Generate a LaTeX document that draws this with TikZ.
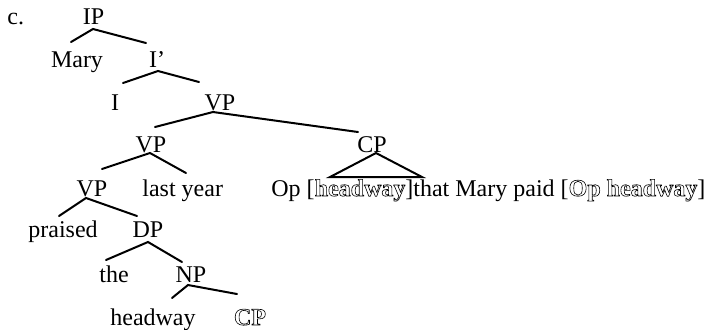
\documentclass[tikz,border=0pt]{standalone}
\usepackage{fontspec}
\setmainfont{Liberation Serif}
\newcommand{\hollowtxt}[1]{\special{pdf:literal direct 1 Tr 0.3 w}\textbf{#1}\special{pdf:literal direct 0 Tr}}
\begin{document}
\begin{tikzpicture}[x=0.5pt,y=-0.5pt,
  lab/.style={anchor=base,inner sep=0pt,font=\fontsize{12}{14}\selectfont},
  labw/.style={anchor=base west,inner sep=0pt,font=\fontsize{12}{14}\selectfont},
  edge/.style={line width=1pt,line cap=round}]
\useasboundingbox (0,0) rectangle (706,329);
% labels
\node[labw] (c) at (7,24) {c.};
\node[lab] (ip) at (93.5,24) {IP};
\node[lab] (mary) at (77,67) {Mary};
\node[lab] (ibar) at (157,67) {I’};
\node[lab] (i) at (115,110) {I};
\node[lab] (vpa) at (220,110) {VP};
\node[lab] (vpb) at (151,152) {VP};
\node[lab] (cp) at (372,152) {CP};
\node[lab] (vpc) at (92,196) {VP};
\node[labw] (ly) at (142,196) {last year};
\node[labw] (op) at (271,196) {Op [\hollowtxt{headway}]that Mary paid [\hollowtxt{Op headway}]};
\node[labw] (pr) at (28,237) {praised};
\node[lab] (dp) at (148,237) {DP};
\node[lab] (the) at (114,282) {the};
\node[lab] (np) at (191,282) {NP};
\node[lab] (hw) at (153,325) {headway};
\node[lab] (cpb) at (250,325) {\hollowtxt{CP}};
% branch points
\coordinate (ipA) at (93,29);   \coordinate (maryT) at (71,42);  \coordinate (ibarT) at (146,43);
\coordinate (ibarA) at (158,71); \coordinate (iT) at (123,83);   \coordinate (vpaT) at (199,82);
\coordinate (vpaA) at (213,112); \coordinate (vpbT) at (155,127); \coordinate (cpT) at (358,132);
\coordinate (vpbA) at (150,153); \coordinate (vpcT) at (102,169); \coordinate (lyT) at (186,173);
\coordinate (cpA) at (376,153);  \coordinate (triL) at (330,177); \coordinate (triR) at (422,177);
\coordinate (vpcA) at (86,198);  \coordinate (prT) at (59,216);   \coordinate (dpT) at (137,216);
\coordinate (dpA) at (148,242);  \coordinate (theT) at (106,260); \coordinate (npT) at (182,262);
\coordinate (npA) at (188,285);  \coordinate (hwT) at (172,298);  \coordinate (cpbT) at (237,294);
% edges
\draw[edge] (maryT) -- (ipA) -- (ibarT);
\draw[edge] (iT) -- (ibarA) -- (vpaT);
\draw[edge] (vpbT) -- (vpaA) -- (cpT);
\draw[edge] (vpcT) -- (vpbA) -- (lyT);
\draw[edge,line join=miter] (cpA) -- (triL) -- (triR) -- cycle;
\draw[edge] (prT) -- (vpcA) -- (dpT);
\draw[edge] (theT) -- (dpA) -- (npT);
\draw[edge] (hwT) -- (npA) -- (cpbT);
\end{tikzpicture}
\end{document}
